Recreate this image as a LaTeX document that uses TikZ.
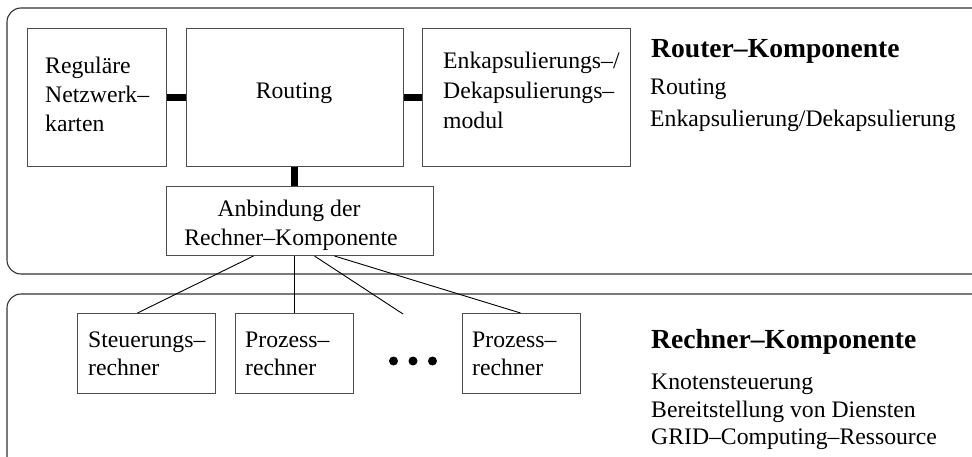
\documentclass[tikz,border=0pt]{standalone}
\usepackage{fontspec}
\setmainfont{Liberation Serif}
\usetikzlibrary{calc}
\begin{document}
\begin{tikzpicture}[x=1pt,y=-1pt,
  panel/.style={draw=black!80,line width=1.1pt,rounded corners=14pt},
  unit/.style={draw=black!70,line width=1pt,rectangle,inner sep=0pt,anchor=north west},
  txt/.style={anchor=base west,inner sep=0pt,font=\fontsize{23.7}{28}\selectfont},
  ctxt/.style={anchor=base,inner sep=0pt,font=\fontsize{23.7}{28}\selectfont},
  title/.style={anchor=base west,inner sep=0pt,font=\fontsize{27.6}{32}\selectfont\bfseries},
  bus/.style={line width=7pt,black},
  wire/.style={line width=0.9pt,black},
  dot/.style={circle,fill=black,inner sep=0pt,minimum size=9pt}]
\useasboundingbox (0,0) rectangle (972,457);
\clip (0,0) rectangle (972,457);

% the two component panels
\draw[panel] (7,8) rectangle (995,274);
\draw[panel] (7,294) rectangle (995,480);

% router component units
\node[unit,minimum width=139pt,minimum height=138pt] (reg) at (27,28) {};
\node[unit,minimum width=217pt,minimum height=138pt] (rout) at (186,28) {};
\node[unit,minimum width=208pt,minimum height=138pt] (enc) at (422,28) {};
\node[unit,minimum width=267pt,minimum height=69pt] (anb) at (166,186) {};

% computer units
\node[unit,minimum width=138pt,minimum height=80pt] (steu) at (77,313) {};
\node[unit,minimum width=118pt,minimum height=80pt] (proz1) at (235,313) {};
\node[unit,minimum width=118pt,minimum height=80pt] (proz2) at (462,313) {};

% internal buses
\draw[bus] (reg.east) -- (rout.west);
\draw[bus] (rout.east) -- (enc.west);
\draw[bus] ([xshift=-0.5pt]rout.south) -- ([xshift=-5.5pt]anb.north);

% links to the computers
\coordinate (more) at (403,314);
\draw[wire] ([xshift=-46.5pt]anb.south) -- ([xshift=-9pt]steu.north);
\draw[wire] ([xshift=-5.5pt]anb.south) -- (proz1.north);
\draw[wire] ([xshift=14.5pt]anb.south) -- (more);
\draw[wire] ([xshift=34.5pt]anb.south) -- ([xshift=-1pt]proz2.north);

% ellipsis
\node[dot] (d1) at (393.5,361) {};
\node[dot] (d2) at (413,361) {};
\node[dot] (d3) at (432.5,361) {};

% unit labels
\node[txt] (reg1) at (45,74) {Reguläre};
\node[txt] (reg2) at (45,103) {Netzwerk–};
\node[txt] (reg3) at (45,132) {karten};
\node[ctxt] (rout1) at (294,99) {Routing};
\node[txt] (enc1) at (443,69) {Enkapsulierungs–/};
\node[txt] (enc2) at (443,99) {Dekapsulierungs–};
\node[txt] (enc3) at (443,129) {modul};
\node[ctxt] (anb1) at (289,217) {Anbindung der};
\node[ctxt] (anb2) at (291,246) {Rechner–Komponente};
\node[txt] (steu1) at (88,347) {Steuerungs–};
\node[txt] (steu2) at (88,375) {rechner};
\node[txt] (pa1) at (245,347) {Prozess–};
\node[txt] (pa2) at (245,375) {rechner};
\node[txt] (pb1) at (472,347) {Prozess–};
\node[txt] (pb2) at (472,375) {rechner};

% panel descriptions
\node[title] (rt) at (651,58) {Router–Komponente};
\node[txt] (rt1) at (650,95) {Routing};
\node[txt] (rt2) at (650,127) {Enkapsulierung/Dekapsulierung};
\node[title] (ct) at (651,348) {Rechner–Komponente};
\node[txt] (ct1) at (651,389) {Knotensteuerung};
\node[txt] (ct2) at (651,417) {Bereitstellung von Diensten};
\node[txt] (ct3) at (651,444) {GRID–Computing–Ressource};
\end{tikzpicture}
\end{document}
